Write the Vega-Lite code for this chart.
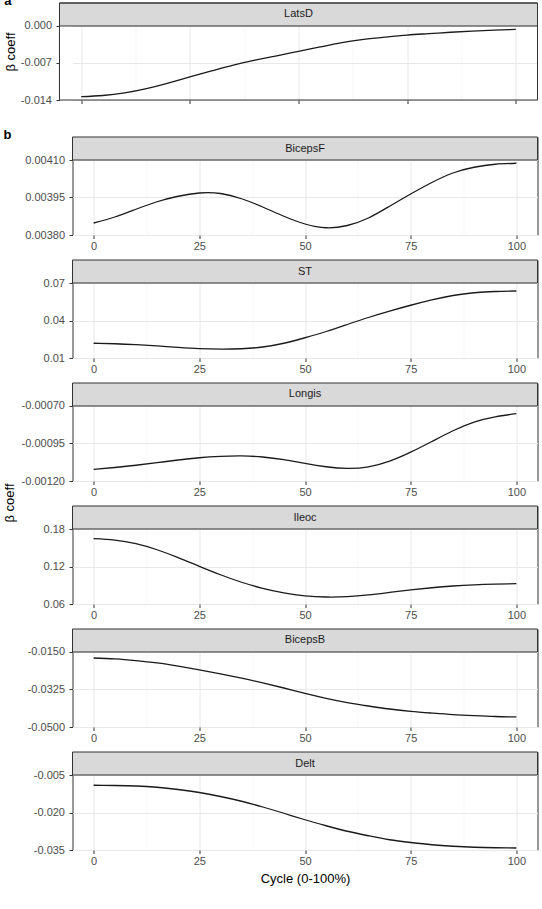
{
  "$schema": "https://vega.github.io/schema/vega-lite/v6.json",
  "padding": {"left": 3.5, "top": -6, "right": 0, "bottom": 0},
  "columns": 1,
  "spacing": 24,
  "background": "white",
  "config": {
    "font": "Liberation Sans",
    "view": {"stroke": "#333333", "strokeWidth": 1},
    "axis": {"domain": false, "labelFont": "Liberation Sans", "labelFontSize": 11, "labelColor": "#4d4d4d", "tickColor": "#333333", "tickSize": 3.5, "tickWidth": 1, "labelFlush": false, "labelOverlap": false, "titleFont": "Liberation Sans", "titleFontSize": 13, "titleFontWeight": "normal", "titleColor": "#000000", "grid": true},
    "axisX": {"labelPadding": 2},
    "axisY": {"labelPadding": 4.5},
    "title": {"font": "Liberation Sans", "color": "#000000"}
  },
  "datasets": {
    "strips": [{"panel": "LatsD"}, {"panel": "BicepsF"}, {"panel": "ST"}, {"panel": "Longis"}, {"panel": "Ileoc"}, {"panel": "BicepsB"}, {"panel": "Delt"}],
    "curves": [
      {"panel": "LatsD", "t": 0, "v": -0.01338}, {"panel": "LatsD", "t": 5, "v": -0.01315}, {"panel": "LatsD", "t": 10, "v": -0.01265}, {"panel": "LatsD", "t": 15, "v": -0.01185}, {"panel": "LatsD", "t": 20, "v": -0.0108}, {"panel": "LatsD", "t": 25, "v": -0.00963}, {"panel": "LatsD", "t": 30, "v": -0.0085}, {"panel": "LatsD", "t": 35, "v": -0.0074}, {"panel": "LatsD", "t": 40, "v": -0.00647}, {"panel": "LatsD", "t": 45, "v": -0.00564}, {"panel": "LatsD", "t": 50, "v": -0.0048}, {"panel": "LatsD", "t": 55, "v": -0.00396}, {"panel": "LatsD", "t": 60, "v": -0.00315}, {"panel": "LatsD", "t": 65, "v": -0.00254}, {"panel": "LatsD", "t": 70, "v": -0.0021}, {"panel": "LatsD", "t": 75, "v": -0.00172}, {"panel": "LatsD", "t": 80, "v": -0.00145}, {"panel": "LatsD", "t": 85, "v": -0.00118}, {"panel": "LatsD", "t": 90, "v": -0.00096}, {"panel": "LatsD", "t": 95, "v": -0.00078}, {"panel": "LatsD", "t": 100, "v": -0.00063},
      {"panel": "BicepsF", "t": 0, "v": 0.003848}, {"panel": "BicepsF", "t": 5, "v": 0.003872}, {"panel": "BicepsF", "t": 10, "v": 0.003903}, {"panel": "BicepsF", "t": 15, "v": 0.003933}, {"panel": "BicepsF", "t": 20, "v": 0.003955}, {"panel": "BicepsF", "t": 25, "v": 0.003968}, {"panel": "BicepsF", "t": 30, "v": 0.003966}, {"panel": "BicepsF", "t": 35, "v": 0.003945}, {"panel": "BicepsF", "t": 40, "v": 0.003912}, {"panel": "BicepsF", "t": 45, "v": 0.003875}, {"panel": "BicepsF", "t": 50, "v": 0.003844}, {"panel": "BicepsF", "t": 55, "v": 0.003829}, {"panel": "BicepsF", "t": 60, "v": 0.003838}, {"panel": "BicepsF", "t": 65, "v": 0.003868}, {"panel": "BicepsF", "t": 70, "v": 0.003915}, {"panel": "BicepsF", "t": 75, "v": 0.003964}, {"panel": "BicepsF", "t": 80, "v": 0.00401}, {"panel": "BicepsF", "t": 85, "v": 0.004048}, {"panel": "BicepsF", "t": 90, "v": 0.004071}, {"panel": "BicepsF", "t": 95, "v": 0.004083}, {"panel": "BicepsF", "t": 100, "v": 0.004087},
      {"panel": "ST", "t": 0, "v": 0.0218}, {"panel": "ST", "t": 5, "v": 0.0214}, {"panel": "ST", "t": 10, "v": 0.0207}, {"panel": "ST", "t": 15, "v": 0.0197}, {"panel": "ST", "t": 20, "v": 0.0185}, {"panel": "ST", "t": 25, "v": 0.0175}, {"panel": "ST", "t": 30, "v": 0.0171}, {"panel": "ST", "t": 35, "v": 0.0174}, {"panel": "ST", "t": 40, "v": 0.0188}, {"panel": "ST", "t": 45, "v": 0.0218}, {"panel": "ST", "t": 50, "v": 0.0262}, {"panel": "ST", "t": 55, "v": 0.0312}, {"panel": "ST", "t": 60, "v": 0.0368}, {"panel": "ST", "t": 65, "v": 0.0424}, {"panel": "ST", "t": 70, "v": 0.0475}, {"panel": "ST", "t": 75, "v": 0.0522}, {"panel": "ST", "t": 80, "v": 0.0565}, {"panel": "ST", "t": 85, "v": 0.06}, {"panel": "ST", "t": 90, "v": 0.0622}, {"panel": "ST", "t": 95, "v": 0.0632}, {"panel": "ST", "t": 100, "v": 0.0636},
      {"panel": "Longis", "t": 0, "v": -0.001123}, {"panel": "Longis", "t": 5, "v": -0.00111}, {"panel": "Longis", "t": 10, "v": -0.001095}, {"panel": "Longis", "t": 15, "v": -0.001078}, {"panel": "Longis", "t": 20, "v": -0.00106}, {"panel": "Longis", "t": 25, "v": -0.001045}, {"panel": "Longis", "t": 30, "v": -0.001036}, {"panel": "Longis", "t": 35, "v": -0.001033}, {"panel": "Longis", "t": 40, "v": -0.00104}, {"panel": "Longis", "t": 45, "v": -0.001058}, {"panel": "Longis", "t": 50, "v": -0.001083}, {"panel": "Longis", "t": 55, "v": -0.001105}, {"panel": "Longis", "t": 60, "v": -0.001116}, {"panel": "Longis", "t": 65, "v": -0.001106}, {"panel": "Longis", "t": 70, "v": -0.001068}, {"panel": "Longis", "t": 75, "v": -0.001008}, {"panel": "Longis", "t": 80, "v": -0.000937}, {"panel": "Longis", "t": 85, "v": -0.000865}, {"panel": "Longis", "t": 90, "v": -0.000807}, {"panel": "Longis", "t": 95, "v": -0.000772}, {"panel": "Longis", "t": 100, "v": -0.000751},
      {"panel": "Ileoc", "t": 0, "v": 0.1645}, {"panel": "Ileoc", "t": 5, "v": 0.1622}, {"panel": "Ileoc", "t": 10, "v": 0.1565}, {"panel": "Ileoc", "t": 15, "v": 0.1468}, {"panel": "Ileoc", "t": 20, "v": 0.1342}, {"panel": "Ileoc", "t": 25, "v": 0.1203}, {"panel": "Ileoc", "t": 30, "v": 0.1068}, {"panel": "Ileoc", "t": 35, "v": 0.0948}, {"panel": "Ileoc", "t": 40, "v": 0.0851}, {"panel": "Ileoc", "t": 45, "v": 0.0778}, {"panel": "Ileoc", "t": 50, "v": 0.0731}, {"panel": "Ileoc", "t": 55, "v": 0.0712}, {"panel": "Ileoc", "t": 60, "v": 0.0718}, {"panel": "Ileoc", "t": 65, "v": 0.0745}, {"panel": "Ileoc", "t": 70, "v": 0.0785}, {"panel": "Ileoc", "t": 75, "v": 0.0825}, {"panel": "Ileoc", "t": 80, "v": 0.086}, {"panel": "Ileoc", "t": 85, "v": 0.0888}, {"panel": "Ileoc", "t": 90, "v": 0.0907}, {"panel": "Ileoc", "t": 95, "v": 0.0918}, {"panel": "Ileoc", "t": 100, "v": 0.0925},
      {"panel": "BicepsB", "t": 0, "v": -0.0178}, {"panel": "BicepsB", "t": 5, "v": -0.0182}, {"panel": "BicepsB", "t": 10, "v": -0.019}, {"panel": "BicepsB", "t": 15, "v": -0.0201}, {"panel": "BicepsB", "t": 20, "v": -0.0216}, {"panel": "BicepsB", "t": 25, "v": -0.0233}, {"panel": "BicepsB", "t": 30, "v": -0.0252}, {"panel": "BicepsB", "t": 35, "v": -0.0272}, {"panel": "BicepsB", "t": 40, "v": -0.0294}, {"panel": "BicepsB", "t": 45, "v": -0.0318}, {"panel": "BicepsB", "t": 50, "v": -0.0343}, {"panel": "BicepsB", "t": 55, "v": -0.0366}, {"panel": "BicepsB", "t": 60, "v": -0.0386}, {"panel": "BicepsB", "t": 65, "v": -0.0402}, {"panel": "BicepsB", "t": 70, "v": -0.0416}, {"panel": "BicepsB", "t": 75, "v": -0.0427}, {"panel": "BicepsB", "t": 80, "v": -0.0435}, {"panel": "BicepsB", "t": 85, "v": -0.0442}, {"panel": "BicepsB", "t": 90, "v": -0.0447}, {"panel": "BicepsB", "t": 95, "v": -0.0451}, {"panel": "BicepsB", "t": 100, "v": -0.0453},
      {"panel": "Delt", "t": 0, "v": -0.0091}, {"panel": "Delt", "t": 5, "v": -0.0092}, {"panel": "Delt", "t": 10, "v": -0.0094}, {"panel": "Delt", "t": 15, "v": -0.0099}, {"panel": "Delt", "t": 20, "v": -0.0108}, {"panel": "Delt", "t": 25, "v": -0.012}, {"panel": "Delt", "t": 30, "v": -0.0136}, {"panel": "Delt", "t": 35, "v": -0.0155}, {"panel": "Delt", "t": 40, "v": -0.0178}, {"panel": "Delt", "t": 45, "v": -0.0203}, {"panel": "Delt", "t": 50, "v": -0.0229}, {"panel": "Delt", "t": 55, "v": -0.0253}, {"panel": "Delt", "t": 60, "v": -0.0275}, {"panel": "Delt", "t": 65, "v": -0.0293}, {"panel": "Delt", "t": 70, "v": -0.0309}, {"panel": "Delt", "t": 75, "v": -0.032}, {"panel": "Delt", "t": 80, "v": -0.0329}, {"panel": "Delt", "t": 85, "v": -0.0335}, {"panel": "Delt", "t": 90, "v": -0.0339}, {"panel": "Delt", "t": 95, "v": -0.0341}, {"panel": "Delt", "t": 100, "v": -0.0342}
    ]
  },
  "concat": [
    {
      "title": {"text": "a", "anchor": "start", "frame": "bounds", "orient": "top", "fontSize": 13, "fontWeight": "bold", "baseline": "alphabetic", "offset": 0, "dy": 15},
      "width": 465, "height": 97,
      "view": {"stroke": null},
      "layer": [
        {"data": {"name": "curves"}, "transform": [{"filter": "datum.panel === 'LatsD'"}],
         "mark": {"type": "line", "color": "#1a1a1a", "strokeWidth": 1.3, "interpolate": "natural"},
         "encoding": {
           "x": {"field": "t", "type": "quantitative", "scale": {"domain": [-2.008, 105], "nice": false, "zero": false},
                 "axis": {"values": [0, 12.5, 25, 37.5, 50, 62.5, 75, 87.5, 100], "title": null, "labels": false,
                          "tickOpacity": {"condition": {"test": "datum.value % 25 !== 0", "value": 0}, "value": 1},
                          "gridWidth": {"condition": {"test": "datum.value % 25 !== 0", "value": 0.6}, "value": 1},
                          "gridColor": {"condition": {"test": "datum.value % 25 !== 0", "value": "#f2f2f2"}, "value": "#e8e8e8"}}},
           "y": {"field": "v", "type": "quantitative", "scale": {"domain": [-0.014, 0.004351], "nice": false, "zero": false},
                 "axis": {"values": [-0.014, -0.0105, -0.007, -0.0035, 0], "title": "β coeff", "titlePadding": 3, "offset": 13,
                          "labelExpr": "indexof([-0.0105,-0.0035], datum.value) >= 0 ? '' : replace(format(datum.value, '.3f'), '\u2212', '-')",
                          "tickOpacity": {"condition": {"test": "indexof([-0.0105,-0.0035], datum.value) >= 0", "value": 0}, "value": 1},
                          "gridWidth": {"condition": {"test": "indexof([-0.0105,-0.0035], datum.value) >= 0", "value": 0.6}, "value": 1},
                          "gridColor": {"condition": {"test": "indexof([-0.0105,-0.0035], datum.value) >= 0", "value": "#f2f2f2"}, "value": "#e8e8e8"}}}
         }},
        {"data": {"name": "strips"}, "transform": [{"filter": "datum.panel === 'LatsD'"}],
         "mark": {"type": "rect", "fill": "#d9d9d9", "stroke": "#333333", "strokeWidth": 1},
         "encoding": {"x": {"datum": -5, "type": "quantitative", "scale": {"domain": [-2.008, 105], "nice": false, "zero": false}}, "x2": {"datum": 105},
                      "y": {"datum": 0, "type": "quantitative", "scale": {"domain": [-0.014, 0.004351], "nice": false, "zero": false}}, "y2": {"datum": 0.004351}}},
        {"data": {"name": "strips"}, "transform": [{"filter": "datum.panel === 'LatsD'"}],
         "mark": {"type": "rect", "fill": null, "fillOpacity": 0, "stroke": "#333333", "strokeWidth": 1},
         "encoding": {"x": {"datum": -5, "type": "quantitative", "scale": {"domain": [-2.008, 105], "nice": false, "zero": false}}, "x2": {"datum": 105},
                      "y": {"datum": -0.014, "type": "quantitative", "scale": {"domain": [-0.014, 0.004351], "nice": false, "zero": false}}, "y2": {"datum": 0.004351}}},
        {"data": {"name": "strips"}, "transform": [{"filter": "datum.panel === 'LatsD'"}],
         "mark": {"type": "text", "fontSize": 11, "color": "#1a1a1a", "baseline": "middle", "font": "Liberation Sans"},
         "encoding": {"text": {"field": "panel"},
                      "x": {"datum": 50, "type": "quantitative", "scale": {"domain": [-2.008, 105], "nice": false, "zero": false}},
                      "y": {"datum": 0.0021755, "type": "quantitative", "scale": {"domain": [-0.014, 0.004351], "nice": false, "zero": false}}}}
      ]
    },
    {
      "title": {"text": "b", "anchor": "start", "frame": "bounds", "orient": "top", "fontSize": 13, "fontWeight": "bold", "baseline": "alphabetic", "offset": 0, "dy": 16},
      "vconcat": [
        {
          "title": {"text": "β coeff", "orient": "left", "anchor": "middle", "offset": 4, "fontSize": 13, "fontWeight": "normal", "dx": 8},
          "bounds": "flush",
          "spacing": 25,
          "vconcat": [
            {
              "width": 465, "height": 98,
              "layer": [
                {"data": {"name": "curves"}, "transform": [{"filter": "datum.panel === 'BicepsF'"}],
                 "mark": {"type": "line", "color": "#1a1a1a", "strokeWidth": 1.3, "interpolate": "natural"},
                 "encoding": {
                   "x": {"field": "t", "type": "quantitative", "scale": {"domain": [-5, 105], "nice": false, "zero": false},
                         "axis": {"values": [0, 12.5, 25, 37.5, 50, 62.5, 75, 87.5, 100], "title": null,
                                  "labelExpr": "datum.value % 25 === 0 ? format(datum.value, 'd') : ''",
                                  "tickOpacity": {"condition": {"test": "datum.value % 25 !== 0", "value": 0}, "value": 1},
                                  "gridWidth": {"condition": {"test": "datum.value % 25 !== 0", "value": 0.6}, "value": 1},
                                  "gridColor": {"condition": {"test": "datum.value % 25 !== 0", "value": "#f2f2f2"}, "value": "#e8e8e8"}}},
                   "y": {"field": "v", "type": "quantitative", "scale": {"domain": [0.0038, 0.004192], "nice": false, "zero": false},
                         "axis": {"values": [0.0038, 0.003875, 0.00395, 0.004025, 0.0041], "title": null,
                                  "labelExpr": "indexof([0.003875,0.004025], datum.value) >= 0 ? '' : replace(format(datum.value, '.5f'), '\u2212', '-')",
                                  "tickOpacity": {"condition": {"test": "indexof([0.003875,0.004025], datum.value) >= 0", "value": 0}, "value": 1},
                                  "gridWidth": {"condition": {"test": "indexof([0.003875,0.004025], datum.value) >= 0", "value": 0.6}, "value": 1},
                                  "gridColor": {"condition": {"test": "indexof([0.003875,0.004025], datum.value) >= 0", "value": "#f2f2f2"}, "value": "#e8e8e8"}}}
                 }},
                {"data": {"name": "strips"}, "transform": [{"filter": "datum.panel === 'BicepsF'"}],
                 "mark": {"type": "rect", "fill": "#d9d9d9", "stroke": "#333333", "strokeWidth": 1},
                 "encoding": {"y": {"datum": 0.0041, "type": "quantitative", "scale": {"domain": [0.0038, 0.004192], "nice": false, "zero": false}}, "y2": {"datum": 0.004192}}},
                {"data": {"name": "strips"}, "transform": [{"filter": "datum.panel === 'BicepsF'"}],
                 "mark": {"type": "text", "fontSize": 11, "color": "#1a1a1a", "baseline": "middle", "font": "Liberation Sans"},
                 "encoding": {"text": {"field": "panel"},
                              "x": {"datum": 50, "type": "quantitative", "scale": {"domain": [-5, 105], "nice": false, "zero": false}},
                              "y": {"datum": 0.004146, "type": "quantitative", "scale": {"domain": [0.0038, 0.004192], "nice": false, "zero": false}}}}
              ]
            },
            {
              "width": 465, "height": 98,
              "layer": [
                {"data": {"name": "curves"}, "transform": [{"filter": "datum.panel === 'ST'"}],
                 "mark": {"type": "line", "color": "#1a1a1a", "strokeWidth": 1.3, "interpolate": "natural"},
                 "encoding": {
                   "x": {"field": "t", "type": "quantitative", "scale": {"domain": [-5, 105], "nice": false, "zero": false},
                         "axis": {"values": [0, 12.5, 25, 37.5, 50, 62.5, 75, 87.5, 100], "title": null,
                                  "labelExpr": "datum.value % 25 === 0 ? format(datum.value, 'd') : ''",
                                  "tickOpacity": {"condition": {"test": "datum.value % 25 !== 0", "value": 0}, "value": 1},
                                  "gridWidth": {"condition": {"test": "datum.value % 25 !== 0", "value": 0.6}, "value": 1},
                                  "gridColor": {"condition": {"test": "datum.value % 25 !== 0", "value": "#f2f2f2"}, "value": "#e8e8e8"}}},
                   "y": {"field": "v", "type": "quantitative", "scale": {"domain": [0.01, 0.0884], "nice": false, "zero": false},
                         "axis": {"values": [0.01, 0.025, 0.04, 0.055, 0.07], "title": null,
                                  "labelExpr": "indexof([0.025,0.055], datum.value) >= 0 ? '' : replace(format(datum.value, '.2f'), '\u2212', '-')",
                                  "tickOpacity": {"condition": {"test": "indexof([0.025,0.055], datum.value) >= 0", "value": 0}, "value": 1},
                                  "gridWidth": {"condition": {"test": "indexof([0.025,0.055], datum.value) >= 0", "value": 0.6}, "value": 1},
                                  "gridColor": {"condition": {"test": "indexof([0.025,0.055], datum.value) >= 0", "value": "#f2f2f2"}, "value": "#e8e8e8"}}}
                 }},
                {"data": {"name": "strips"}, "transform": [{"filter": "datum.panel === 'ST'"}],
                 "mark": {"type": "rect", "fill": "#d9d9d9", "stroke": "#333333", "strokeWidth": 1},
                 "encoding": {"y": {"datum": 0.07, "type": "quantitative", "scale": {"domain": [0.01, 0.0884], "nice": false, "zero": false}}, "y2": {"datum": 0.0884}}},
                {"data": {"name": "strips"}, "transform": [{"filter": "datum.panel === 'ST'"}],
                 "mark": {"type": "text", "fontSize": 11, "color": "#1a1a1a", "baseline": "middle", "font": "Liberation Sans"},
                 "encoding": {"text": {"field": "panel"},
                              "x": {"datum": 50, "type": "quantitative", "scale": {"domain": [-5, 105], "nice": false, "zero": false}},
                              "y": {"datum": 0.0792, "type": "quantitative", "scale": {"domain": [0.01, 0.0884], "nice": false, "zero": false}}}}
              ]
            },
            {
              "width": 465, "height": 98,
              "layer": [
                {"data": {"name": "curves"}, "transform": [{"filter": "datum.panel === 'Longis'"}],
                 "mark": {"type": "line", "color": "#1a1a1a", "strokeWidth": 1.3, "interpolate": "natural"},
                 "encoding": {
                   "x": {"field": "t", "type": "quantitative", "scale": {"domain": [-5, 105], "nice": false, "zero": false},
                         "axis": {"values": [0, 12.5, 25, 37.5, 50, 62.5, 75, 87.5, 100], "title": null,
                                  "labelExpr": "datum.value % 25 === 0 ? format(datum.value, 'd') : ''",
                                  "tickOpacity": {"condition": {"test": "datum.value % 25 !== 0", "value": 0}, "value": 1},
                                  "gridWidth": {"condition": {"test": "datum.value % 25 !== 0", "value": 0.6}, "value": 1},
                                  "gridColor": {"condition": {"test": "datum.value % 25 !== 0", "value": "#f2f2f2"}, "value": "#e8e8e8"}}},
                   "y": {"field": "v", "type": "quantitative", "scale": {"domain": [-0.0012, -0.0005467], "nice": false, "zero": false},
                         "axis": {"values": [-0.0012, -0.001075, -0.00095, -0.000825, -0.0007], "title": null,
                                  "labelExpr": "indexof([-0.001075,-0.000825], datum.value) >= 0 ? '' : replace(format(datum.value, '.5f'), '\u2212', '-')",
                                  "tickOpacity": {"condition": {"test": "indexof([-0.001075,-0.000825], datum.value) >= 0", "value": 0}, "value": 1},
                                  "gridWidth": {"condition": {"test": "indexof([-0.001075,-0.000825], datum.value) >= 0", "value": 0.6}, "value": 1},
                                  "gridColor": {"condition": {"test": "indexof([-0.001075,-0.000825], datum.value) >= 0", "value": "#f2f2f2"}, "value": "#e8e8e8"}}}
                 }},
                {"data": {"name": "strips"}, "transform": [{"filter": "datum.panel === 'Longis'"}],
                 "mark": {"type": "rect", "fill": "#d9d9d9", "stroke": "#333333", "strokeWidth": 1},
                 "encoding": {"y": {"datum": -0.0007, "type": "quantitative", "scale": {"domain": [-0.0012, -0.0005467], "nice": false, "zero": false}}, "y2": {"datum": -0.0005467}}},
                {"data": {"name": "strips"}, "transform": [{"filter": "datum.panel === 'Longis'"}],
                 "mark": {"type": "text", "fontSize": 11, "color": "#1a1a1a", "baseline": "middle", "font": "Liberation Sans"},
                 "encoding": {"text": {"field": "panel"},
                              "x": {"datum": 50, "type": "quantitative", "scale": {"domain": [-5, 105], "nice": false, "zero": false}},
                              "y": {"datum": -0.00062335, "type": "quantitative", "scale": {"domain": [-0.0012, -0.0005467], "nice": false, "zero": false}}}}
              ]
            },
            {
              "width": 465, "height": 98,
              "layer": [
                {"data": {"name": "curves"}, "transform": [{"filter": "datum.panel === 'Ileoc'"}],
                 "mark": {"type": "line", "color": "#1a1a1a", "strokeWidth": 1.3, "interpolate": "natural"},
                 "encoding": {
                   "x": {"field": "t", "type": "quantitative", "scale": {"domain": [-5, 105], "nice": false, "zero": false},
                         "axis": {"values": [0, 12.5, 25, 37.5, 50, 62.5, 75, 87.5, 100], "title": null,
                                  "labelExpr": "datum.value % 25 === 0 ? format(datum.value, 'd') : ''",
                                  "tickOpacity": {"condition": {"test": "datum.value % 25 !== 0", "value": 0}, "value": 1},
                                  "gridWidth": {"condition": {"test": "datum.value % 25 !== 0", "value": 0.6}, "value": 1},
                                  "gridColor": {"condition": {"test": "datum.value % 25 !== 0", "value": "#f2f2f2"}, "value": "#e8e8e8"}}},
                   "y": {"field": "v", "type": "quantitative", "scale": {"domain": [0.06, 0.2168], "nice": false, "zero": false},
                         "axis": {"values": [0.06, 0.09, 0.12, 0.15, 0.18], "title": null,
                                  "labelExpr": "indexof([0.09,0.15], datum.value) >= 0 ? '' : replace(format(datum.value, '.2f'), '\u2212', '-')",
                                  "tickOpacity": {"condition": {"test": "indexof([0.09,0.15], datum.value) >= 0", "value": 0}, "value": 1},
                                  "gridWidth": {"condition": {"test": "indexof([0.09,0.15], datum.value) >= 0", "value": 0.6}, "value": 1},
                                  "gridColor": {"condition": {"test": "indexof([0.09,0.15], datum.value) >= 0", "value": "#f2f2f2"}, "value": "#e8e8e8"}}}
                 }},
                {"data": {"name": "strips"}, "transform": [{"filter": "datum.panel === 'Ileoc'"}],
                 "mark": {"type": "rect", "fill": "#d9d9d9", "stroke": "#333333", "strokeWidth": 1},
                 "encoding": {"y": {"datum": 0.18, "type": "quantitative", "scale": {"domain": [0.06, 0.2168], "nice": false, "zero": false}}, "y2": {"datum": 0.2168}}},
                {"data": {"name": "strips"}, "transform": [{"filter": "datum.panel === 'Ileoc'"}],
                 "mark": {"type": "text", "fontSize": 11, "color": "#1a1a1a", "baseline": "middle", "font": "Liberation Sans"},
                 "encoding": {"text": {"field": "panel"},
                              "x": {"datum": 50, "type": "quantitative", "scale": {"domain": [-5, 105], "nice": false, "zero": false}},
                              "y": {"datum": 0.1984, "type": "quantitative", "scale": {"domain": [0.06, 0.2168], "nice": false, "zero": false}}}}
              ]
            },
            {
              "width": 465, "height": 98,
              "layer": [
                {"data": {"name": "curves"}, "transform": [{"filter": "datum.panel === 'BicepsB'"}],
                 "mark": {"type": "line", "color": "#1a1a1a", "strokeWidth": 1.3, "interpolate": "natural"},
                 "encoding": {
                   "x": {"field": "t", "type": "quantitative", "scale": {"domain": [-5, 105], "nice": false, "zero": false},
                         "axis": {"values": [0, 12.5, 25, 37.5, 50, 62.5, 75, 87.5, 100], "title": null,
                                  "labelExpr": "datum.value % 25 === 0 ? format(datum.value, 'd') : ''",
                                  "tickOpacity": {"condition": {"test": "datum.value % 25 !== 0", "value": 0}, "value": 1},
                                  "gridWidth": {"condition": {"test": "datum.value % 25 !== 0", "value": 0.6}, "value": 1},
                                  "gridColor": {"condition": {"test": "datum.value % 25 !== 0", "value": "#f2f2f2"}, "value": "#e8e8e8"}}},
                   "y": {"field": "v", "type": "quantitative", "scale": {"domain": [-0.05, -0.004267], "nice": false, "zero": false},
                         "axis": {"values": [-0.05, -0.04125, -0.0325, -0.02375, -0.015], "title": null,
                                  "labelExpr": "indexof([-0.04125,-0.02375], datum.value) >= 0 ? '' : replace(format(datum.value, '.4f'), '\u2212', '-')",
                                  "tickOpacity": {"condition": {"test": "indexof([-0.04125,-0.02375], datum.value) >= 0", "value": 0}, "value": 1},
                                  "gridWidth": {"condition": {"test": "indexof([-0.04125,-0.02375], datum.value) >= 0", "value": 0.6}, "value": 1},
                                  "gridColor": {"condition": {"test": "indexof([-0.04125,-0.02375], datum.value) >= 0", "value": "#f2f2f2"}, "value": "#e8e8e8"}}}
                 }},
                {"data": {"name": "strips"}, "transform": [{"filter": "datum.panel === 'BicepsB'"}],
                 "mark": {"type": "rect", "fill": "#d9d9d9", "stroke": "#333333", "strokeWidth": 1},
                 "encoding": {"y": {"datum": -0.015, "type": "quantitative", "scale": {"domain": [-0.05, -0.004267], "nice": false, "zero": false}}, "y2": {"datum": -0.004267}}},
                {"data": {"name": "strips"}, "transform": [{"filter": "datum.panel === 'BicepsB'"}],
                 "mark": {"type": "text", "fontSize": 11, "color": "#1a1a1a", "baseline": "middle", "font": "Liberation Sans"},
                 "encoding": {"text": {"field": "panel"},
                              "x": {"datum": 50, "type": "quantitative", "scale": {"domain": [-5, 105], "nice": false, "zero": false}},
                              "y": {"datum": -0.0096335, "type": "quantitative", "scale": {"domain": [-0.05, -0.004267], "nice": false, "zero": false}}}}
              ]
            },
            {
              "width": 465, "height": 98,
              "layer": [
                {"data": {"name": "curves"}, "transform": [{"filter": "datum.panel === 'Delt'"}],
                 "mark": {"type": "line", "color": "#1a1a1a", "strokeWidth": 1.3, "interpolate": "natural"},
                 "encoding": {
                   "x": {"field": "t", "type": "quantitative", "scale": {"domain": [-5, 105], "nice": false, "zero": false},
                         "axis": {"values": [0, 12.5, 25, 37.5, 50, 62.5, 75, 87.5, 100], "title": "Cycle (0-100%)", "titlePadding": 6,
                                  "labelExpr": "datum.value % 25 === 0 ? format(datum.value, 'd') : ''",
                                  "tickOpacity": {"condition": {"test": "datum.value % 25 !== 0", "value": 0}, "value": 1},
                                  "gridWidth": {"condition": {"test": "datum.value % 25 !== 0", "value": 0.6}, "value": 1},
                                  "gridColor": {"condition": {"test": "datum.value % 25 !== 0", "value": "#f2f2f2"}, "value": "#e8e8e8"}}},
                   "y": {"field": "v", "type": "quantitative", "scale": {"domain": [-0.035, 0.0042], "nice": false, "zero": false},
                         "axis": {"values": [-0.035, -0.0275, -0.02, -0.0125, -0.005], "title": null,
                                  "labelExpr": "indexof([-0.0275,-0.0125], datum.value) >= 0 ? '' : replace(format(datum.value, '.3f'), '\u2212', '-')",
                                  "tickOpacity": {"condition": {"test": "indexof([-0.0275,-0.0125], datum.value) >= 0", "value": 0}, "value": 1},
                                  "gridWidth": {"condition": {"test": "indexof([-0.0275,-0.0125], datum.value) >= 0", "value": 0.6}, "value": 1},
                                  "gridColor": {"condition": {"test": "indexof([-0.0275,-0.0125], datum.value) >= 0", "value": "#f2f2f2"}, "value": "#e8e8e8"}}}
                 }},
                {"data": {"name": "strips"}, "transform": [{"filter": "datum.panel === 'Delt'"}],
                 "mark": {"type": "rect", "fill": "#d9d9d9", "stroke": "#333333", "strokeWidth": 1},
                 "encoding": {"y": {"datum": -0.005, "type": "quantitative", "scale": {"domain": [-0.035, 0.0042], "nice": false, "zero": false}}, "y2": {"datum": 0.0042}}},
                {"data": {"name": "strips"}, "transform": [{"filter": "datum.panel === 'Delt'"}],
                 "mark": {"type": "text", "fontSize": 11, "color": "#1a1a1a", "baseline": "middle", "font": "Liberation Sans"},
                 "encoding": {"text": {"field": "panel"},
                              "x": {"datum": 50, "type": "quantitative", "scale": {"domain": [-5, 105], "nice": false, "zero": false}},
                              "y": {"datum": -0.0004, "type": "quantitative", "scale": {"domain": [-0.035, 0.0042], "nice": false, "zero": false}}}}
              ]
            }
          ]
        }
      ]
    }
  ]
}
